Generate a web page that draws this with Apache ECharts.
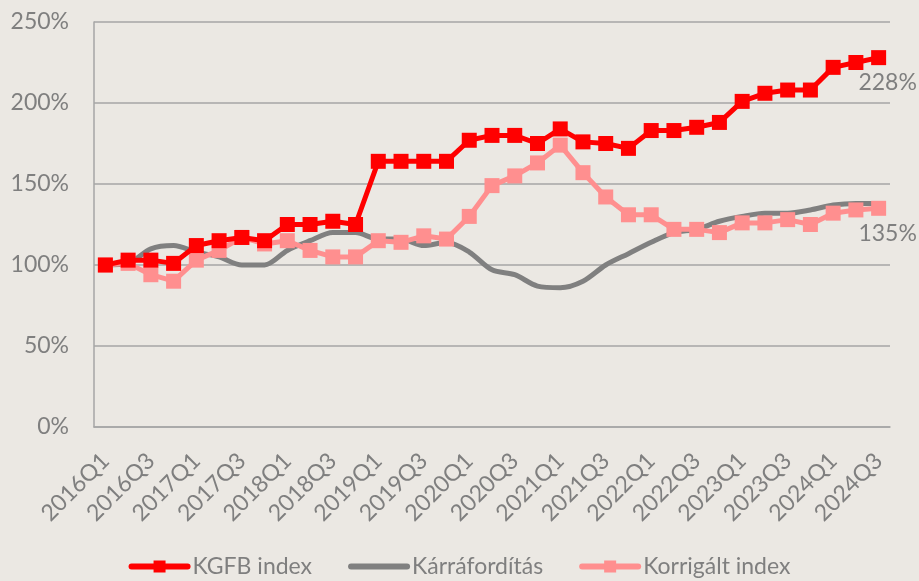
<!DOCTYPE html>
<html lang="hu">
<head>
    <meta charset="UTF-8">
    <title>KGFB index</title>
    <style>
        html, body { margin: 0; padding: 0; background: #ebe8e3; }
    </style>
</head>
<body>
<div id="main" style="width:919px; height:581px"></div>

<script src="https://cdn.jsdelivr.net/npm/echarts@6/dist/echarts.min.js"></script>
<script>
    // negyedévek
    var quarters = [];
    for (var y = 2016; y <= 2024; y++) {
        for (var q = 1; q <= 4; q++) {
            if (y === 2024 && q > 3) break;
            quarters.push(y + 'Q' + q);
        }
    }

    var kgfb = [100, 103, 103, 101, 112, 115, 117, 115, 125, 125,
                127, 125, 164, 164, 164, 164, 177, 180, 180, 175,
                184, 176, 175, 172, 183, 183, 185, 188, 201, 206,
                208, 208, 222, 225, 228];
    var karraforditas = [100, 101, 110, 112, 108, 105, 100, 100, 109, 115,
                         120, 120, 116, 116, 112, 114, 108, 97, 94, 87,
                         86, 90, 100, 107, 114, 120, 122, 127, 130, 132,
                         132, 134, 137, 138, 138];
    var korrigalt = [100, 101, 94, 90, 103, 109, 117, 113, 115, 109,
                     105, 105, 115, 114, 118, 116, 130, 149, 155, 163,
                     174, 157, 142, 131, 131, 122, 122, 120, 126, 126,
                     128, 125, 132, 134, 135];

    var textColor = '#7f7f7f';
    var font = 'Lato';

    // csak az utolsó pontra kerül felirat
    function lastLabel(arr) {
        return arr.map(function (v, i) {
            if (i !== arr.length - 1) return v;
            return {
                value: v,
                label: {
                    show: true, position: 'bottom', distance: 6, offset: [9, 0],
                    formatter: '{c}%', color: textColor, fontSize: 23, fontFamily: font
                }
            };
        });
    }

    var myChart = echarts.init(document.getElementById('main'));
    var option = {
        backgroundColor: '#ebe8e3',
        animation: false,
        textStyle: { fontFamily: font },
        grid: { left: 94, right: 29, top: 22, bottom: 154 },
        legend: {
            bottom: -2,
            left: 'center',
            itemWidth: 56,
            itemHeight: 15,
            itemGap: 36,
            lineStyle: { width: 6, cap: 'round' },
            textStyle: { color: textColor, fontSize: 23, fontFamily: font },
            data: [
                'KGFB index',
                { name: 'Kárráfordítás', itemStyle: { opacity: 0 } },
                'Korrigált index'
            ]
        },
        xAxis: {
            type: 'category',
            data: quarters,
            boundaryGap: true,
            axisLine: { lineStyle: { color: '#a6a6a6', width: 1.5 } },
            axisTick: { show: false },
            axisLabel: {
                interval: 1, rotate: 45, color: textColor,
                fontSize: 23, fontFamily: font, margin: 30
            }
        },
        yAxis: {
            type: 'value',
            min: 0, max: 250, interval: 50,
            axisLine: { show: true, lineStyle: { color: '#a6a6a6', width: 1.5 } },
            axisTick: { show: false },
            splitLine: { lineStyle: { color: '#a6a6a6', width: 1.5 } },
            axisLabel: {
                formatter: '{value}%', color: textColor,
                fontSize: 23, fontFamily: font, margin: 25
            }
        },
        series: [
            {
                name: 'Kárráfordítás',
                type: 'line',
                data: karraforditas,
                smooth: 0.3,
                symbol: 'none',
                lineStyle: { color: '#808080', width: 5 },
                itemStyle: { color: '#808080' },
                z: 2
            },
            {
                name: 'Korrigált index',
                type: 'line',
                data: lastLabel(korrigalt),
                symbol: 'rect',
                symbolSize: 15,
                lineStyle: { color: '#ff8f8f', width: 5 },
                itemStyle: { color: '#ff8f8f' },
                z: 3
            },
            {
                name: 'KGFB index',
                type: 'line',
                data: lastLabel(kgfb),
                symbol: 'rect',
                symbolSize: 15,
                lineStyle: { color: '#ff0000', width: 5 },
                itemStyle: { color: '#ff0000' },
                z: 4
            }
        ]
    };
    myChart.setOption(option);
</script>
</body>
</html>
